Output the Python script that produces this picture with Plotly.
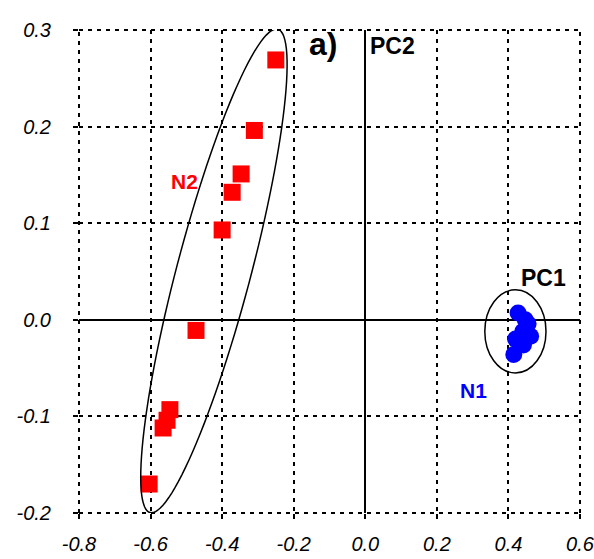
import numpy as np
import plotly.graph_objects as go

# ---- data ----
n2_x = [-0.25, -0.31, -0.347, -0.372, -0.40, -0.473, -0.546, -0.554, -0.565, -0.604]
n2_y = [0.269, 0.196, 0.151, 0.132, 0.093, -0.011, -0.093, -0.104, -0.112, -0.170]
n1_x = [0.427, 0.447, 0.455, 0.462, 0.440, 0.420, 0.442, 0.415]
n1_y = [0.007, 0.000, -0.004, -0.017, -0.012, -0.020, -0.026, -0.036]

x_ticks = [-0.8, -0.6, -0.4, -0.2, 0.0, 0.2, 0.4, 0.6]
y_ticks = [-0.2, -0.1, 0.0, 0.1, 0.2, 0.3]
x_range = [-0.8, 0.6]
y_range = [-0.2, 0.3]

# ellipse annotations (data units)
n1_ell = dict(x0=0.334, x1=0.505, y0=-0.055, y1=0.031)
n2_center = (-0.423, 0.0506)
n2_semi_major_px = 250
n2_semi_minor_px = 37
n2_tilt_deg = 14.8  # from vertical, leaning right

W, H = 594, 559
margin = dict(l=79, r=14, t=30, b=46, autoexpand=False)
plot_w = W - margin["l"] - margin["r"]
plot_h = H - margin["t"] - margin["b"]
sx = (x_range[1] - x_range[0]) / plot_w
sy = (y_range[1] - y_range[0]) / plot_h

t = np.linspace(0, 2 * np.pi, 120)
th = np.deg2rad(n2_tilt_deg)
ux, uy = np.sin(th), np.cos(th)
vx, vy = np.cos(th), -np.sin(th)
px = n2_semi_major_px * np.cos(t) * ux + n2_semi_minor_px * np.sin(t) * vx
py = n2_semi_major_px * np.cos(t) * uy + n2_semi_minor_px * np.sin(t) * vy
ex = n2_center[0] + px * sx
ey = n2_center[1] + py * sy
path = "M " + " L ".join(f"{a:.5f},{b:.5f}" for a, b in zip(ex, ey)) + " Z"

fig = go.Figure()
fig.add_trace(go.Scatter(x=n2_x, y=n2_y, mode="markers",
                         marker=dict(symbol="square", size=17, color="#ff0000", line=dict(width=0)),
                         showlegend=False, hoverinfo="skip", cliponaxis=False))
fig.add_trace(go.Scatter(x=n1_x, y=n1_y, mode="markers",
                         marker=dict(symbol="circle", size=17, color="#0000ff", line=dict(width=0)),
                         showlegend=False, hoverinfo="skip", cliponaxis=False))

fig.add_shape(type="circle", xref="x", yref="y", **n1_ell, line=dict(color="black", width=1.5))
fig.add_shape(type="path", xref="x", yref="y", path=path, line=dict(color="black", width=1.5))

# dotted frame (edge grid lines)
dot = dict(color="black", width=2, dash="4px,5px")
for x0, y0, x1, y1 in [(0, 0, 1, 0), (0, 1, 1, 1), (0, 0, 0, 1), (1, 0, 1, 1)]:
    fig.add_shape(type="line", xref="paper", yref="paper", x0=x0, y0=y0, x1=x1, y1=y1,
                  line=dot, layer="below")

tick_font = dict(family="Liberation Sans, Arial, sans-serif", size=20, color="black", style="italic")
axis_common = dict(showgrid=True, gridcolor="black", gridwidth=2, griddash="4px,5px",
                   zeroline=True, zerolinecolor="black", zerolinewidth=1.5,
                   showline=False, ticks="outside", ticklen=5, tickwidth=2, tickcolor="black",
                   tickfont=tick_font, automargin=False, ticklabeloverflow="allow")
fig.update_xaxes(range=x_range, tickvals=x_ticks, ticktext=[f"{v:.1f}" for v in x_ticks],
                 ticklabelstandoff=8, **axis_common)
fig.update_yaxes(range=y_range, tickvals=y_ticks, ticktext=[f"{v:.1f}" for v in y_ticks],
                 ticklabelstandoff=18, **axis_common)

lab_font = "Liberation Sans, Arial, sans-serif"
fig.add_annotation(x=-0.118, y=0.286, text="<b>a)</b>", showarrow=False,
                   font=dict(family=lab_font, size=32, color="black"))
fig.add_annotation(x=0.077, y=0.283, text="<b>PC2</b>", showarrow=False,
                   font=dict(family=lab_font, size=23, color="black"))
fig.add_annotation(x=0.499, y=0.043, text="<b>PC1</b>", showarrow=False,
                   font=dict(family=lab_font, size=23, color="black"))
fig.add_annotation(x=-0.505, y=0.143, text="<b>N2</b>", showarrow=False,
                   font=dict(family=lab_font, size=21, color="#ff0000"))
fig.add_annotation(x=0.301, y=-0.073, text="<b>N1</b>", showarrow=False,
                   font=dict(family=lab_font, size=21, color="#0000ff"))

fig.update_layout(width=W, height=H, margin=margin, plot_bgcolor="white", paper_bgcolor="white")
fig.write_html("out.html", config={"displayModeBar": False},
               post_script="document.body.style.margin='0px';document.body.style.overflow='hidden';")
